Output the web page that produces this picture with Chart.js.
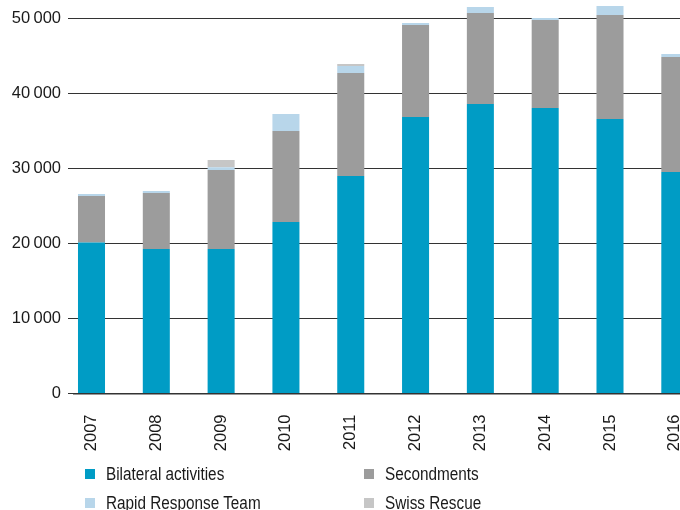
<!DOCTYPE html>
<html>
<head>
<meta charset="utf-8">
<script src="https://cdn.jsdelivr.net/npm/chart.js@4"></script>
<style>
  html, body { margin: 0; padding: 0; background: #fff; overflow: hidden; }
  #wrap { position: relative; width: 680px; height: 510px; }
  #legend { position: absolute; left: 0; top: 0; width: 680px; height: 510px; pointer-events: none;
    font-family: "Liberation Sans", Arial, sans-serif; font-size: 17.5px; line-height: 17.5px; color: #1a1a1a; }
  .box { position: absolute; width: 10px; height: 10px; }
  .txt { position: absolute; white-space: nowrap; transform: scaleX(0.875); transform-origin: left top; }
</style>
</head>
<body>
<div id="wrap">
  <canvas id="chart" width="680" height="510"></canvas>
  <div id="legend"></div>
</div>
<script>
// Data
const years = ["2007", "2008", "2009", "2010", "2011", "2012", "2013", "2014", "2015", "2016"];
const bilateral = [20150, 19270, 19270, 22880, 29020, 36880, 38620, 38090, 36620, 29550];
const secondments = [6200, 7490, 10540, 12140, 13730, 12280, 12140, 11730, 13870, 15350];
const rapidResponse = [260, 250, 360, 2270, 930, 270, 800, 270, 1200, 400];
const swissRescue = [0, 0, 980, 0, 270, 0, 0, 0, 0, 0];
const yTicks = [0, 10000, 20000, 30000, 40000, 50000];

const seriesNames = ["Bilateral activities", "Secondments", "Rapid Response Team", "Swiss Rescue"];
const seriesColors = ["#009cc5", "#9c9c9c", "#b8d6ea", "#c6c6c6"];
const seriesData = [bilateral, secondments, rapidResponse, swissRescue];

const FONT = "'Liberation Sans', Arial, sans-serif";

function fmt(v) {
  // thin space as thousands separator
  return String(v).replace(/\B(?=(\d{3})+(?!\d))/g, "\u2009");
}

const datasets = seriesData.map((vals, i) => ({
  label: seriesNames[i],
  data: vals.map((v, j) => ({ x: j, y: v })),
  backgroundColor: seriesColors[i],
  borderWidth: 0,
  categoryPercentage: 1,
  barPercentage: 0.417,
}));

new Chart(document.getElementById("chart"), {
  type: "bar",
  data: { datasets },
  options: {
    responsive: false,
    animation: false,
    layout: { padding: 0 },
    plugins: { legend: { display: false }, tooltip: { enabled: false } },
    scales: {
      x: {
        type: "linear",
        stacked: true,
        offset: false,
        min: -0.27,
        max: 9.08,
        grid: { display: false, drawTicks: false },
        border: { display: true, color: "#333", width: 1.5 },
        afterFit: (scale) => {
          scale.height = 116.5;
          scale.paddingLeft = 0;
          scale.paddingRight = 0;
        },
        afterBuildTicks: (scale) => {
          scale.ticks = years.map((y, i) => ({ value: i }));
        },
        ticks: {
          autoSkip: false,
          minRotation: 90,
          maxRotation: 90,
          padding: 21,
          color: "#1a1a1a",
          font: { family: FONT, size: 16.5 },
          callback: (v) => years[v] ?? "",
        },
      },
      y: {
        stacked: true,
        min: 0,
        max: 52500,
        afterFit: (scale) => {
          scale.width = 74;
          scale.paddingTop = 0;
          scale.paddingBottom = 0;
        },
        afterBuildTicks: (scale) => {
          scale.ticks = yTicks.map((v) => ({ value: v }));
        },
        grid: { color: "#333", lineWidth: 1, tickLength: 6, drawTicks: true },
        border: { display: false },
        ticks: {
          padding: 7,
          color: "#1a1a1a",
          font: { family: FONT, size: 16.5 },
          callback: (v) => fmt(v),
        },
      },
    },
  },
});

// Legend (two columns, two rows)
const legendPos = [[85, 466], [364, 466], [85, 495], [364, 495]];
const legend = document.getElementById("legend");
seriesNames.forEach((name, i) => {
  const [x, y] = legendPos[i];
  const box = document.createElement("div");
  box.className = "box";
  box.style.left = x + "px";
  box.style.top = (y + 3) + "px";
  box.style.background = seriesColors[i];
  const txt = document.createElement("div");
  txt.className = "txt";
  txt.style.left = (x + 21) + "px";
  txt.style.top = y + "px";
  txt.textContent = name;
  legend.appendChild(box);
  legend.appendChild(txt);
});
</script>
</body>
</html>
